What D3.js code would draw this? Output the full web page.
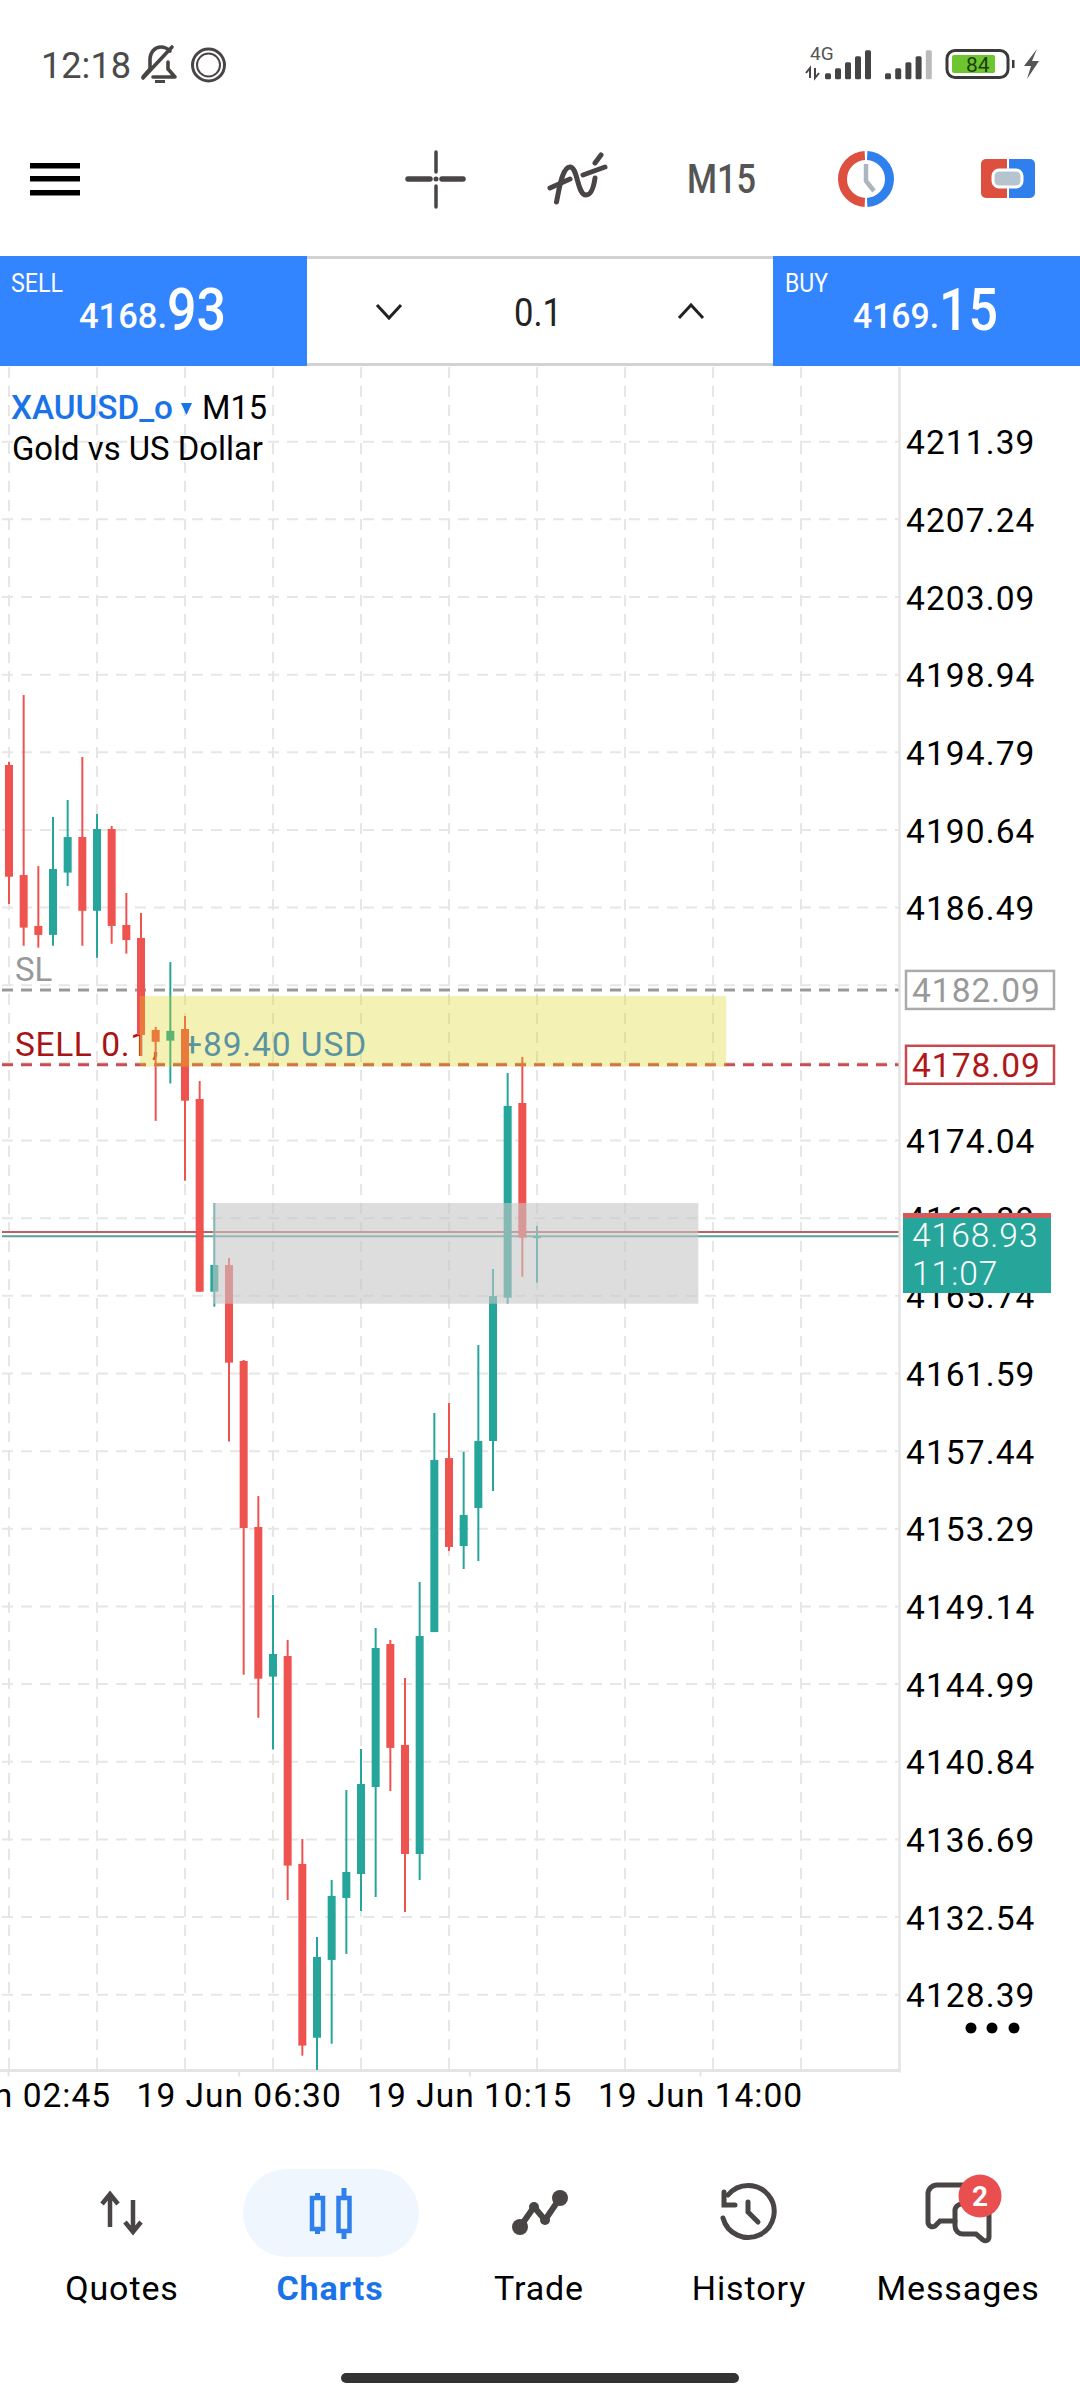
<!DOCTYPE html>
<html><head><meta charset="utf-8">
<style>html,body{margin:0;padding:0;background:#fff;overflow:hidden}svg{display:block}text{font-family:Roboto,sans-serif}</style>
<script src="https://cdn.jsdelivr.net/npm/d3@7"></script></head><body>
<svg id="c" width="1080" height="2400"></svg>
<script>
// ---- data ----
const candleOpen  = [4194.11,4188.23,4185.51,4185.03,4188.36,4190.26,4186.32,4190.69,4185.56,4184.87,4179.95,4179.38,4180.00,4176.26,4165.96,4167.39,4162.26,4153.39,4145.39,4146.49,4135.38,4126.09,4130.25,4133.56,4134.84,4139.49,4147.13,4141.74,4135.91,4147.77,4157.07,4152.37,4154.40,4157.98,4165.64,4176.05,4168.85];
const candleClose = [4188.14,4185.42,4185.03,4188.55,4190.26,4186.32,4190.69,4185.51,4184.76,4179.68,4179.32,4179.90,4176.17,4165.96,4167.39,4162.17,4153.33,4145.28,4146.60,4135.29,4125.67,4130.41,4133.67,4134.95,4139.65,4146.92,4141.58,4135.91,4147.56,4156.97,4152.32,4154.03,4157.98,4165.73,4175.89,4168.85,4168.93];
const candleHigh  = [4194.29,4197.85,4188.71,4191.33,4192.24,4194.54,4191.49,4190.85,4187.27,4186.20,4180.11,4183.58,4180.70,4177.22,4170.70,4167.76,4162.31,4155.04,4149.75,4147.35,4136.71,4131.47,4134.52,4139.33,4141.52,4147.99,4147.35,4145.32,4150.45,4159.48,4160.01,4157.40,4163.11,4167.18,4177.65,4178.51,4169.47];
const candleLow   = [4186.68,4184.45,4184.35,4184.45,4187.64,4184.45,4183.81,4184.56,4184.03,4178.56,4175.09,4177.09,4171.89,4165.96,4165.16,4157.95,4145.49,4143.19,4141.49,4133.45,4125.13,4124.37,4125.77,4130.57,4132.86,4133.61,4139.28,4132.81,4134.52,4147.77,4152.10,4151.14,4151.57,4155.31,4165.32,4166.76,4166.44];
const priceTicks = [4211.39,4207.24,4203.09,4198.94,4194.79,4190.64,4186.49,4182.34,4178.19,4174.04,4169.89,4165.74,4161.59,4157.44,4153.29,4149.14,4144.99,4140.84,4136.69,4132.54,4128.39];
const hiddenTicks = [4182.34,4178.19];
const timeTicks = [165,390,615,840];
const timeLabels = ["19 Jun 02:45","19 Jun 06:30","19 Jun 10:15","19 Jun 14:00"];
const gridEvery = [-6,0,6,12,18,24,30,36,42,48,54];
const stopLoss = 4182.09, sellPrice = 4178.09, bid = 4168.93, ask = 4169.15;
const profitZone = [4181.77,4177.99], profitZoneIdx = [8.93,48.9];
const greyZone = [4170.70,4165.32], greyZoneIdx = [13.9,47];
const navLabels = ["Quotes","Charts","Trade","History","Messages"];

const svg = d3.select("#c");
const axisX = 899.5, plotTop = 367, plotBot = 2070.5;
const y = d3.scaleLinear().domain([4211.39,4128.39]).range([441.7,1994.7]);
const x = d3.scaleLinear().domain([0,36]).range([9,537]);
const tx = d3.scaleLinear().domain([165,840]).range([8,700]);
const RED="#ef5350", TEAL="#26a69a", BLUE="#3384ff", LINK="#1a73e8", INK="#4a4545";
const T=(g,s,a,b,o={})=>{const t=g.append("text").attr("x",a).attr("y",b).text(s);Object.entries(o).forEach(([k,v])=>t.attr(k,v));return t;};
const P=(g,d,col,w,extra={})=>{const p=g.append("path").attr("d",d).attr("fill","none").attr("stroke",col).attr("stroke-width",w);Object.entries(extra).forEach(([k,v])=>p.attr(k,v));return p;};

// ---- status bar ----
const st = svg.append("g");
T(st,"12:18",41,78,{"font-size":37,fill:"#4a4a4a",textLength:90,lengthAdjust:"spacingAndGlyphs"});
P(st,"M150 69V60C150 52 155 47 161 47C165 47 168 49 170 51M168 62V69L175 77H153M143 78L172 47M143 77L150 69",INK,3.6,{"stroke-linecap":"round","stroke-linejoin":"round"});
P(st,"M155 81.5H165",INK,3);
[[16,3],[11.5,2]].forEach(([r,w])=>st.append("circle").attr("cx",208.5).attr("cy",65).attr("r",r).attr("fill","none").attr("stroke",INK).attr("stroke-width",w));
T(st,"4G",810,60,{"font-size":19,fill:"#555"});
P(st,"M810 68v10M806 73l4-5 0 10M815 68v10L819 73",INK,2);
[6,11,17,23,29].forEach((h,i)=>{
  st.append("rect").attr("x",825+i*10).attr("y",79.3-h).attr("width",6).attr("height",h).attr("rx",1.5).attr("fill","#444");
  st.append("rect").attr("x",885+i*10.2).attr("y",79.3-h).attr("width",6).attr("height",h).attr("rx",1.5).attr("fill",i==4?"#bbb":"#444");
});
st.append("rect").attr("x",947).attr("y",50.5).attr("width",61).attr("height",27).attr("rx",8).attr("fill","none").attr("stroke","#3a3a3a").attr("stroke-width",3);
st.append("rect").attr("x",952).attr("y",55).attr("width",43).attr("height",18).attr("rx",2).attr("fill","#6dc52f");
st.append("rect").attr("x",1012).attr("y",60).attr("width",2.5).attr("height",8).attr("fill","#3a3a3a");
T(st,"84",966,72,{"font-size":21,fill:"#1d3d10"});
st.append("path").attr("d","M1037 49L1024 66H1031L1027 79L1039 61H1032Z").attr("fill","#555");

// ---- toolbar ----
const tb = svg.append("g");
[163,176,190].forEach(v=>tb.append("rect").attr("x",30).attr("y",v).attr("width",50).attr("height",5.5).attr("fill","#000"));
P(tb,"M408 179H430M442 179H463",INK,5.5,{"stroke-linecap":"round"});
P(tb,"M436 152V172M436 186V207",INK,3.5,{"stroke-linecap":"round"});
tb.append("circle").attr("cx",436).attr("cy",179).attr("r",2.5).attr("fill",INK);
P(tb,"M556.5 202C559 190 562 167 570 167C578 167 577 195 586 195C592 195 594 185 595 178",INK,5,{"stroke-linecap":"round"});
P(tb,"M595 163L601 155M550 188L570 179M583 175L605 167",INK,5,{"stroke-linecap":"round"});
T(tb,"M15",687,193,{"font-size":41,"font-weight":500,fill:"#555",textLength:69,lengthAdjust:"spacingAndGlyphs"});
const arc=d3.arc();
tb.append("path").attr("transform","translate(866,179)").attr("d",arc({innerRadius:19,outerRadius:28,startAngle:Math.PI+0.05,endAngle:2*Math.PI-0.05})).attr("fill","#dd4f3f");
tb.append("path").attr("transform","translate(866,179)").attr("d",arc({innerRadius:19,outerRadius:28,startAngle:0.05,endAngle:Math.PI-0.05})).attr("fill","#2f80ed");
P(tb,"M866 164V181L874 191","#aab5bf",4.5);
tb.append("path").attr("d","M986 159H1007V198H986a5 5 0 0 1-5-5V164a5 5 0 0 1 5-5z").attr("fill","#dd4f3f");
tb.append("path").attr("d","M1009 159H1030a5 5 0 0 1 5 5V193a5 5 0 0 1-5 5H1009z").attr("fill","#2f80ed");
tb.append("rect").attr("x",993).attr("y",170).attr("width",29).attr("height",17).attr("rx",6).attr("fill","#b6c4cf").attr("stroke","#fff").attr("stroke-width",3);

// ---- trade panel ----
const tp = svg.append("g");
tp.append("rect").attr("x",307).attr("y",256).attr("width",466).attr("height",3).attr("fill","#d2d2d2");
tp.append("rect").attr("x",307).attr("y",363).attr("width",466).attr("height",3).attr("fill","#d2d2d2");
tp.append("rect").attr("x",0).attr("y",256).attr("width",307).attr("height",110).attr("fill",BLUE);
tp.append("rect").attr("x",773).attr("y",256).attr("width",307).attr("height",110).attr("fill",BLUE);
const narrow=(w)=>({textLength:w,lengthAdjust:"spacingAndGlyphs"});
T(tp,"SELL",11,292,{"font-size":26,fill:"#fff",...narrow(52)});
T(tp,"BUY",785,292,{"font-size":26,fill:"#fff",...narrow(43)});
T(tp,"4168.",79,328,{"font-size":35,"font-weight":500,fill:"#fff",...narrow(88)});
T(tp,"93",167,330,{"font-size":60,"font-weight":500,fill:"#fff",...narrow(59)});
T(tp,"4169.",853,328,{"font-size":35,"font-weight":500,fill:"#fff",...narrow(86)});
T(tp,"15",939,330,{"font-size":60,"font-weight":500,fill:"#fff",...narrow(59)});
T(tp,"0.1",514,326,{"font-size":38,fill:"#222",...narrow(48)});
P(tp,"M377 305L389 318L401 305M679 318L691 305L703 318","#222",3);

// ---- chart: grid ----
const grid = svg.append("g").attr("stroke","#e6e6e6").attr("stroke-width",2).attr("stroke-dasharray","11 8");
grid.selectAll("line.v").data(gridEvery).join("line").attr("class","v")
  .attr("x1",d=>x(d)).attr("x2",d=>x(d)).attr("y1",plotTop).attr("y2",plotBot);
grid.selectAll("line.h").data(priceTicks).join("line").attr("class","h")
  .attr("x1",2).attr("x2",axisX).attr("y1",d=>y(d)).attr("y2",d=>y(d));
svg.append("line").attr("x1",axisX).attr("x2",axisX).attr("y1",plotTop).attr("y2",plotBot+2).attr("stroke","#e4e4e4").attr("stroke-width",2.5);
svg.append("line").attr("x1",0).attr("x2",axisX+1).attr("y1",plotBot).attr("y2",plotBot).attr("stroke","#e4e4e4").attr("stroke-width",3);

// axes
const yAxis = d3.axisRight(y).tickValues(priceTicks.filter(v=>!hiddenTicks.includes(v))).tickFormat(d3.format(".2f")).tickSize(0).tickPadding(6.5);
const yg = svg.append("g").attr("transform",`translate(${axisX},0)`).call(yAxis);
yg.select(".domain").remove();
yg.selectAll("text").attr("font-size",33.5).attr("letter-spacing",1.1).attr("fill","#000").attr("font-family","Roboto").attr("dy","0.36em");
const xAxis = d3.axisBottom(tx).tickValues(timeTicks).tickFormat((d,i)=>timeLabels[i]).tickSize(6).tickPadding(7);
const xg = svg.append("g").attr("transform",`translate(0,${plotBot})`).call(xAxis);
xg.select(".domain").remove();
xg.selectAll("line").attr("stroke","#e4e4e4").attr("stroke-width",2);
xg.selectAll("text").attr("font-size",33.5).attr("letter-spacing",1).attr("fill","#000").attr("font-family","Roboto");

// legend
T(svg,"XAUUSD_o",11,419,{"font-size":33,"font-weight":500,fill:LINK,...narrow(162)});
svg.append("path").attr("d","M181 403H192L186.5 415Z").attr("fill",LINK);
T(svg,"M15",202,419,{"font-size":33,fill:"#000",...narrow(65)});
T(svg,"Gold vs US Dollar",12,460,{"font-size":33,fill:"#000",...narrow(251)});

// order labels
T(svg,"SL",15,y(stopLoss)-9,{"font-size":33,fill:"#999"});
T(svg,"SELL 0.1",15,y(sellPrice)-9,{"font-size":33.5,fill:"#a81414","letter-spacing":0.6});
T(svg,",",152,y(sellPrice)-9,{"font-size":33.5,fill:"#a81414"});
T(svg,"+89.40 USD",183,y(sellPrice)-9,{"font-size":33.5,fill:"#1f79e2","letter-spacing":0.9});

// order and price lines
const hl=(p,col,w,dash)=>svg.append("line").attr("x1",2).attr("x2",axisX-1).attr("y1",y(p)).attr("y2",y(p)).attr("stroke",col).attr("stroke-width",w).attr("stroke-dasharray",dash);
hl(stopLoss,"#999",3,"11 8");
hl(sellPrice,"#cc4e52",3,"11 8");
hl(ask,"#c05f60",2,null);
hl(bid,"#5a9f9c",2,null);

// candles
const idx = d3.range(candleOpen.length);
svg.append("g").selectAll("line").data(idx).join("line")
  .attr("x1",i=>x(i)).attr("x2",i=>x(i)).attr("y1",i=>y(candleHigh[i])).attr("y2",i=>y(candleLow[i]))
  .attr("stroke",i=>candleClose[i]>=candleOpen[i]?TEAL:RED).attr("stroke-width",2);
svg.append("g").selectAll("rect").data(idx).join("rect")
  .attr("x",i=>x(i)-4).attr("width",8)
  .attr("y",i=>y(Math.max(candleOpen[i],candleClose[i])))
  .attr("height",i=>Math.max(2,Math.abs(y(candleOpen[i])-y(candleClose[i]))))
  .attr("fill",i=>candleClose[i]>=candleOpen[i]?TEAL:RED);

// translucent zones above the candles
const zone=(yv,xv,fill)=>svg.append("rect").attr("x",x(xv[0])).attr("width",x(xv[1])-x(xv[0])).attr("y",y(yv[0])).attr("height",y(yv[1])-y(yv[0])).attr("fill",fill);
zone(profitZone,profitZoneIdx,"rgba(220,210,16,.31)");
zone(greyZone,greyZoneIdx,"rgba(198,198,198,.6)");

// price boxes
const box=(p,col,tcol)=>{svg.append("rect").attr("x",906).attr("y",y(p)-19).attr("width",148).attr("height",38).attr("fill","#fff").attr("stroke",col).attr("stroke-width",2.5);
  T(svg,d3.format(".2f")(p),912,y(p)+12,{"font-size":33.5,"letter-spacing":1,fill:tcol});};
box(stopLoss,"#aaa","#999");
box(sellPrice,"#c8494f","#b01818");
svg.append("rect").attr("x",903).attr("y",1213).attr("width",148).attr("height",80).attr("fill",TEAL);
svg.append("rect").attr("x",903).attr("y",1213).attr("width",148).attr("height",5).attr("fill","#d75a5a");
T(svg,d3.format(".2f")(bid),912,1247,{"font-size":33.5,"font-weight":300,"letter-spacing":1,fill:"#fff"});
T(svg,"11:07",912,1285,{"font-size":33.5,"font-weight":300,"letter-spacing":1,fill:"#fff"});
[971,992,1014].forEach(v=>svg.append("circle").attr("cx",v).attr("cy",2028).attr("r",5.5).attr("fill","#000"));

// ---- bottom nav ----
const nav = svg.append("g");
nav.append("rect").attr("x",243).attr("y",2169).attr("width",176).attr("height",88).attr("rx",44).attr("fill","#f0f6fe");
navLabels.forEach((s,i)=>T(nav,s,[122,330,539,749,958][i],2300,{"font-size":34,"font-weight":i==1?700:450,"text-anchor":"middle","letter-spacing":.9,fill:i==1?LINK:"#000"}));
P(nav,"M110 2227V2195M102 2204L110 2194L118 2204M133 2200V2231M125 2222L133 2232L141 2222",INK,4.5);
[[317.5,2198,2229,2193,2234],[344,2198,2231,2188,2239]].forEach(([cx,a,b,c,e])=>{
  nav.append("line").attr("x1",cx).attr("x2",cx).attr("y1",c).attr("y2",e).attr("stroke","#2f80ed").attr("stroke-width",5);
  nav.append("rect").attr("x",cx-5.5).attr("y",a).attr("width",11).attr("height",b-a).attr("fill","#f0f6fe").attr("stroke","#2f80ed").attr("stroke-width",4.5);
});
P(nav,"M520 2227L534 2207L545 2220L560 2198",INK,6);
[[520,2227,8],[534,2207,5],[545,2220,5],[560,2198,8]].forEach(([a,b,r])=>nav.append("circle").attr("cx",a).attr("cy",b).attr("r",r).attr("fill",INK));
P(nav,"M723 2218A26 26 0 1 0 728 2195",INK,5,{"stroke-linecap":"round"});
P(nav,"M724 2192V2205H735",INK,5,{"stroke-linecap":"round"});
P(nav,"M748 2202V2212L758 2222",INK,5,{"stroke-linecap":"round"});
P(nav,"M966 2185H937a9 9 0 0 0-9 9V2222c0 4 4 6 7 4l5-5H955",INK,5,{"stroke-linecap":"round"});
P(nav,"M963 2204a7 7 0 0 0-8 8V2226a8 8 0 0 0 8 8H976l7 6c3 2 6 0 6-3V2210",INK,5,{"stroke-linecap":"round"});
nav.append("circle").attr("cx",980).attr("cy",2196).attr("r",21.5).attr("fill","#e94f4f");
T(nav,"2",980,2206,{"font-size":28,"font-weight":700,"text-anchor":"middle",fill:"#fff"});
svg.append("rect").attr("x",341).attr("y",2373).attr("width",398).attr("height",10).attr("rx",5).attr("fill","#333");
</script></body></html>
